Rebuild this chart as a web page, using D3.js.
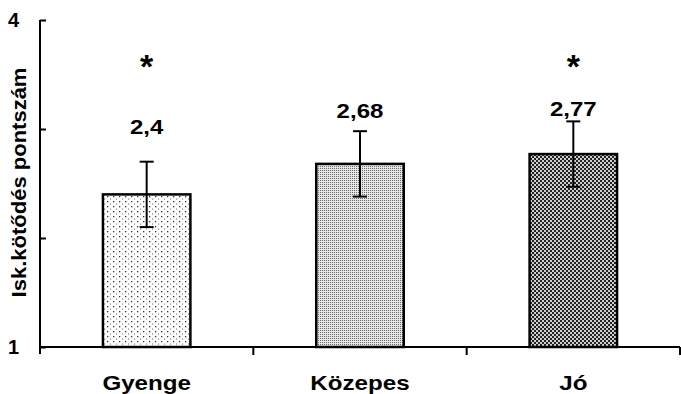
<!DOCTYPE html>
<html>
<head>
<meta charset="utf-8">
<script src="https://cdn.jsdelivr.net/npm/d3@7"></script>
<style>
  body { margin: 0; background: #fff; }
  svg { display: block; font-family: "Liberation Sans", Arial, sans-serif; }
</style>
</head>
<body>
<svg id="chart" width="681" height="394"></svg>
<script>
// chart data
const categories = ["Gyenge", "Közepes", "Jó"];
const means = [2.4, 2.68, 2.77];
const errors = [0.3, 0.3, 0.3];
const valueLabels = ["2,4", "2,68", "2,77"];
const labelHeights = [2.95, 3.1, 3.12];   // where the value text sits, in axis units
const significant = [true, false, true];
const yTicks = [1, 2, 3, 4];
const yTickLabels = ["1", "", "", "4"];
const yTitle = "Isk.kötődés pontszám";

const svg = d3.select("#chart");
const margin = { top: 20, right: 1, bottom: 47, left: 40 };
const width = 681 - margin.left - margin.right;
const height = 394 - margin.top - margin.bottom;

// the scanned chart has slightly wide lettering, stretch text a bit
function stretch(sel, k) {
    sel.each(function() {
        const len = this.getComputedTextLength();
        if (len > 0) {
            this.setAttribute("textLength", len * k);
            this.setAttribute("lengthAdjust", "spacingAndGlyphs");
        }
    });
}

// fill patterns for the three bars
const defs = svg.append("defs");

const p1 = defs.append("pattern").attr("id", "pat0")
    .attr("width", 6).attr("height", 5).attr("patternUnits", "userSpaceOnUse");
p1.append("rect").attr("width", 6).attr("height", 5).attr("fill", "#fff");
p1.append("rect").attr("x", 1).attr("y", 1).attr("width", 1.3).attr("height", 1.3).attr("fill", "#333");
p1.append("rect").attr("x", 4).attr("y", 3.5).attr("width", 1.1).attr("height", 1.1).attr("fill", "#777");

const p2 = defs.append("pattern").attr("id", "pat1")
    .attr("width", 2).attr("height", 2).attr("patternUnits", "userSpaceOnUse");
p2.append("rect").attr("width", 2).attr("height", 2).attr("fill", "#e6e6e6");
p2.append("rect").attr("width", 1).attr("height", 1).attr("fill", "#6a6a6a");

const p3 = defs.append("pattern").attr("id", "pat2")
    .attr("width", 4).attr("height", 4).attr("patternUnits", "userSpaceOnUse");
p3.append("rect").attr("width", 4).attr("height", 4).attr("fill", "#cfcfcf");
p3.append("rect").attr("width", 2).attr("height", 2).attr("fill", "#222");
p3.append("rect").attr("x", 2).attr("y", 2).attr("width", 2).attr("height", 2).attr("fill", "#222");

const g = svg.append("g").attr("transform", `translate(${margin.left},${margin.top})`);

const x = d3.scaleBand().domain(categories).range([0, width]).paddingInner(0.59).paddingOuter(0.295);
const y = d3.scaleLinear().domain([1, 4]).range([height, 0]);

// bars
g.selectAll(".bar")
    .data(categories)
    .enter().append("rect")
    .attr("class", "bar")
    .attr("x", d => x(d))
    .attr("y", (d, i) => y(means[i]))
    .attr("width", x.bandwidth())
    .attr("height", (d, i) => y(1) - y(means[i]))
    .attr("fill", (d, i) => `url(#pat${i})`)
    .attr("stroke", "#000")
    .attr("stroke-width", 2.5);

// error bars
const capW = 7;
const eb = g.selectAll(".err")
    .data(categories)
    .enter().append("g")
    .attr("class", "err")
    .attr("stroke", "#000")
    .attr("stroke-width", 2);

eb.append("line")
    .attr("x1", d => x(d) + x.bandwidth() / 2)
    .attr("x2", d => x(d) + x.bandwidth() / 2)
    .attr("y1", (d, i) => y(means[i] + errors[i]))
    .attr("y2", (d, i) => y(means[i] - errors[i]));
eb.append("line")
    .attr("x1", d => x(d) + x.bandwidth() / 2 - capW)
    .attr("x2", d => x(d) + x.bandwidth() / 2 + capW)
    .attr("y1", (d, i) => y(means[i] + errors[i]))
    .attr("y2", (d, i) => y(means[i] + errors[i]));
eb.append("line")
    .attr("x1", d => x(d) + x.bandwidth() / 2 - capW)
    .attr("x2", d => x(d) + x.bandwidth() / 2 + capW)
    .attr("y1", (d, i) => y(means[i] - errors[i]))
    .attr("y2", (d, i) => y(means[i] - errors[i]));

// value labels
g.selectAll(".val")
    .data(categories)
    .enter().append("text")
    .attr("class", "val")
    .attr("x", d => x(d) + x.bandwidth() / 2)
    .attr("y", (d, i) => y(labelHeights[i]))
    .attr("text-anchor", "middle")
    .style("font-size", "20px")
    .style("font-weight", "bold")
    .text((d, i) => valueLabels[i])
    .call(stretch, 1.2);

// significance stars
g.selectAll(".star")
    .data(categories.filter((d, i) => significant[i]))
    .enter().append("text")
    .attr("class", "star")
    .attr("x", d => x(d) + x.bandwidth() / 2)
    .attr("y", y(3.47))
    .attr("text-anchor", "middle")
    .style("font-size", "34px")
    .style("font-weight", "bold")
    .text("*");

// y axis, ticks point into the plot
const yAxis = g.append("g")
    .call(d3.axisLeft(y).tickValues(yTicks).tickSize(-6).tickPadding(21)
        .tickFormat((d, i) => yTickLabels[i]));
yAxis.select(".domain").attr("stroke-width", 2).attr("d", `M0,0V${height + 7}`);
yAxis.selectAll(".tick line").attr("stroke-width", 2);
yAxis.selectAll(".tick text")
    .style("font-size", "20px")
    .style("font-weight", "bold")
    .style("font-family", "Liberation Sans, Arial, sans-serif")
    .attr("fill", "#000");

// x axis line and ticks at band boundaries
const xAxis = g.append("g").attr("transform", `translate(0,${height})`);
xAxis.append("line")
    .attr("x1", 0).attr("x2", width)
    .attr("stroke", "#000").attr("stroke-width", 2);
xAxis.selectAll(".xt")
    .data(categories)
    .enter().append("line")
    .attr("class", "xt")
    .attr("x1", d => x(d) - x.step() * x.paddingInner() / 2 + x.step())
    .attr("x2", d => x(d) - x.step() * x.paddingInner() / 2 + x.step())
    .attr("y1", 0).attr("y2", 8)
    .attr("stroke", "#000").attr("stroke-width", 2);

// category labels
const xLab = g.append("g")
    .attr("transform", `translate(0,${height})`)
    .call(d3.axisBottom(x).tickSize(0).tickPadding(28));
xLab.select(".domain").remove();
xLab.selectAll(".tick text")
    .style("font-size", "21px")
    .style("font-weight", "bold")
    .style("font-family", "Liberation Sans, Arial, sans-serif")
    .attr("fill", "#000")
    .call(stretch, 1.15);

// y axis title
svg.append("text")
    .attr("transform", `translate(26,${margin.top + height / 2 - 1}) rotate(-90)`)
    .attr("text-anchor", "middle")
    .style("font-size", "20px")
    .style("font-weight", "bold")
    .text(yTitle)
    .call(stretch, 1.1);
</script>
</body>
</html>
